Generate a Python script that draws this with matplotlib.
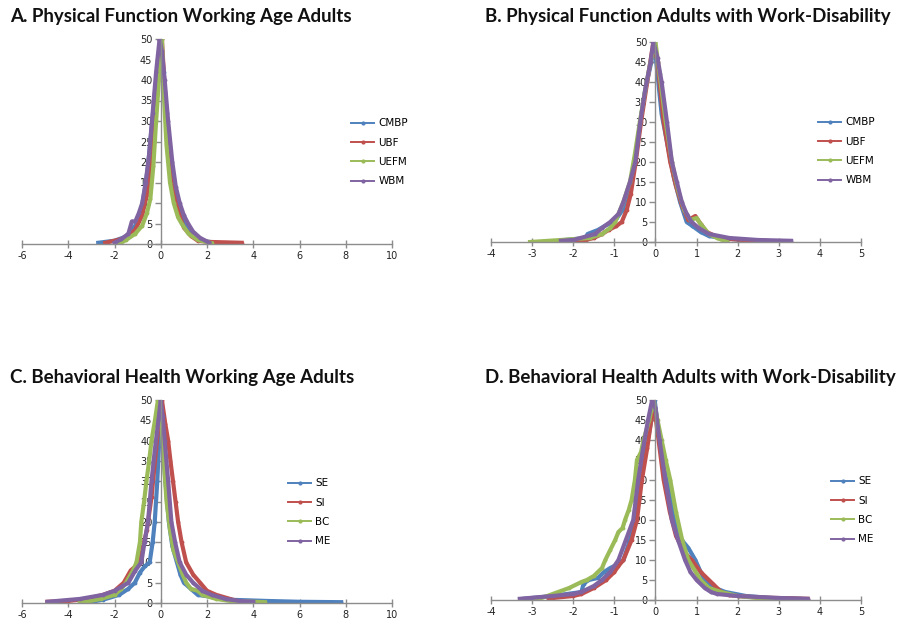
import numpy as np
import matplotlib
matplotlib.use("Agg")
import matplotlib.pyplot as plt
from matplotlib.lines import Line2D

# colours of the four series (Excel 2007 palette)
colors = ["#4F81BD", "#C0504D", "#9BBB59", "#8064A2"]

titles = ["A. Physical Function Working Age Adults",
          "B. Physical Function Adults with Work-Disability",
          "C. Behavioral Health Working Age Adults",
          "D. Behavioral Health Adults with Work-Disability"]

names_pf = ["CMBP", "UBF", "UEFM", "WBM"]
names_bh = ["SE", "SI", "BC", "ME"]

# --- panel A: physical function, working age adults ---
a_cmbp_x = [-2.7, -2.0, -1.5, -1.1, -0.85, -0.7, -0.55, -0.4, -0.25, -0.1, 0.0, 0.12, 0.25, 0.4, 0.55, 0.75, 1.0, 1.3, 1.7, 2.0, 2.45]
a_cmbp_y = [0.3, 0.8, 1.8, 4.5, 8, 13, 19, 28, 37, 45, 50, 42, 32, 22, 15, 9, 5, 2.5, 1.2, 0.6, 0.3]
a_ubf_x = [-2.4, -2.0, -1.5, -1.1, -0.8, -0.6, -0.45, -0.3, -0.15, 0.0, 0.05, 0.15, 0.3, 0.45, 0.6, 0.8, 1.0, 1.3, 1.6, 2.1, 3.5]
a_ubf_y = [0.3, 0.8, 1.5, 3.5, 7, 12, 18, 27, 38, 46, 50, 40, 28, 18, 12, 7, 4, 2, 0.8, 0.5, 0.3]
a_uefm_x = [-1.8, -1.5, -1.1, -0.8, -0.6, -0.45, -0.32, -0.2, -0.08, 0.0, 0.05, 0.12, 0.25, 0.4, 0.56, 0.75, 0.9, 1.2, 1.6, 2.2]
a_uefm_y = [0.0, 1.0, 2.5, 4.5, 7.5, 11, 19, 30, 40, 45, 50, 38, 24, 15, 10, 6.5, 5, 2.5, 1.0, 0.2]
a_wbm_x = [-2.0, -1.7, -1.4, -1.25, -1.1, -0.95, -0.8, -0.65, -0.5, -0.35, -0.2, -0.05, 0.05, 0.17, 0.32, 0.5, 0.65, 0.82, 1.0, 1.18, 1.4, 1.7, 2.1]
a_wbm_y = [0.3, 1.2, 2.5, 5.5, 5.5, 7.5, 10, 15, 22, 32, 42, 50, 47, 40, 30, 20, 14, 10, 7, 5, 3, 1.5, 0.3]

# --- panel B: physical function, adults with work-disability ---
b_cmbp_x = [-2.2, -1.7, -1.65, -1.4, -1.15, -1.0, -0.8, -0.62, -0.5, -0.37, -0.25, -0.1, -0.03, 0.05, 0.15, 0.3, 0.45, 0.6, 0.76, 0.9, 1.1, 1.3, 1.6, 2.0, 2.5, 2.9]
b_cmbp_y = [0.5, 1.0, 2.0, 3.0, 4.5, 5.0, 8, 14, 20, 30, 38, 45, 50, 42, 32, 24, 16, 10, 5, 4, 2.5, 1.5, 1.0, 0.6, 0.3, 0.2]
b_ubf_x = [-2.1, -1.7, -1.5, -1.3, -1.14, -0.95, -0.82, -0.7, -0.6, -0.48, -0.35, -0.2, -0.05, 0.05, 0.2, 0.36, 0.5, 0.65, 0.8, 0.97, 1.1, 1.25, 1.45, 1.7, 2.2, 2.7]
b_ubf_y = [0.3, 0.5, 1.0, 2.0, 3.0, 4.0, 5.0, 8, 12, 20, 30, 40, 50, 45, 30, 20, 14, 9, 5.5, 6.5, 4.5, 2.5, 1.5, 0.8, 0.5, 0.3]
b_uefm_x = [-3.05, -2.3, -1.6, -1.3, -1.1, -0.98, -0.78, -0.62, -0.5, -0.38, -0.25, -0.12, 0.0, 0.1, 0.25, 0.4, 0.55, 0.7, 0.85, 1.0, 1.1, 1.3, 1.5, 1.75]
b_uefm_y = [0.0, 0.5, 1.0, 2.0, 3.5, 5.0, 10, 15, 22, 30, 38, 45, 50, 42, 30, 20, 13, 8, 5.5, 6.0, 4.5, 2.0, 1.0, 0.0]
b_wbm_x = [-2.3, -2.0, -1.47, -1.3, -1.1, -0.9, -0.78, -0.62, -0.49, -0.37, -0.25, -0.12, -0.05, 0.05, 0.15, 0.28, 0.4, 0.52, 0.64, 0.76, 0.88, 1.05, 1.3, 1.8, 2.5, 3.3]
b_wbm_y = [0.3, 0.5, 2.0, 3.5, 5.0, 7.0, 10, 15, 20, 30, 38, 45, 50, 46, 40, 30, 20, 15, 10, 7, 5, 3.5, 2.0, 1.0, 0.5, 0.3]

# --- panel C: behavioral health, working age adults ---
c_se_x = [-3.0, -2.5, -1.8, -1.4, -1.12, -0.9, -0.7, -0.48, -0.35, -0.26, -0.15, -0.05, 0.0, 0.08, 0.2, 0.35, 0.5, 0.7, 0.85, 1.0, 1.3, 1.6, 2.2, 3.0, 4.6, 6.0, 7.8]
c_se_y = [0.3, 0.8, 2.0, 3.5, 5.0, 7.5, 9, 10, 15, 20, 30, 42, 50, 40, 30, 20, 14, 10, 7, 5, 3.5, 2.0, 1.5, 0.8, 0.5, 0.3, 0.2]
c_si_x = [-4.9, -4.0, -3.2, -2.5, -2.0, -1.6, -1.3, -1.1, -0.98, -0.8, -0.6, -0.4, -0.2, -0.05, 0.05, 0.2, 0.32, 0.42, 0.53, 0.64, 0.75, 0.9, 1.1, 1.4, 1.7, 2.0, 2.4, 3.0, 3.6]
c_si_y = [0.3, 0.5, 1.0, 2.0, 3.0, 5.0, 8.0, 9.0, 10, 13, 18, 26, 38, 46, 50, 44, 40, 35, 30, 25, 20, 15, 10, 7, 5, 3, 2, 1, 0.0]
c_bc_x = [-3.5, -2.6, -2.0, -1.7, -1.5, -1.2, -1.05, -0.9, -0.84, -0.72, -0.62, -0.5, -0.4, -0.25, -0.12, 0.0, 0.1, 0.25, 0.4, 0.55, 0.75, 0.95, 1.1, 1.3, 1.6, 1.8, 2.4, 3.0, 4.5]
c_bc_y = [0.0, 1.0, 2.0, 3.5, 5.0, 8.0, 10, 15, 20, 25, 30, 35, 40, 45, 50, 47, 38, 25, 18, 13, 10, 7, 5, 3.5, 3.0, 2.0, 1.0, 0.5, 0.2]
c_me_x = [-4.9, -3.5, -2.5, -2.0, -1.7, -1.4, -1.1, -0.84, -0.7, -0.55, -0.4, -0.25, -0.1, 0.0, 0.08, 0.17, 0.32, 0.46, 0.62, 0.82, 1.1, 1.4, 1.8, 2.2, 2.8, 3.4, 4.0]
c_me_y = [0.3, 1.0, 2.0, 3.0, 4.0, 5.0, 8.0, 10, 15, 20, 30, 38, 45, 50, 46, 40, 30, 20, 15, 10, 7, 5, 3, 2, 1.0, 0.5, 0.3]

# --- panel D: behavioral health, adults with work-disability ---
d_se_x = [-3.2, -2.5, -1.8, -1.75, -1.63, -1.4, -1.25, -1.1, -0.9, -0.78, -0.62, -0.49, -0.37, -0.22, -0.1, -0.02, 0.08, 0.2, 0.32, 0.48, 0.64, 0.8, 0.97, 1.1, 1.2, 1.45, 1.7, 2.2, 2.8, 3.5]
d_se_y = [0.3, 1.0, 2.0, 4.0, 5.0, 5.5, 7.0, 8.0, 9.0, 10, 15, 20, 30, 38, 45, 50, 42, 35, 30, 20, 15, 13, 10, 7, 5, 3, 2, 1.0, 0.5, 0.3]
d_si_x = [-2.6, -2.5, -2.0, -1.8, -1.5, -1.2, -1.0, -0.9, -0.78, -0.58, -0.45, -0.33, -0.2, -0.1, -0.05, 0.05, 0.2, 0.35, 0.5, 0.7, 0.88, 1.1, 1.4, 1.6, 1.8, 2.0, 2.5, 3.0, 3.7]
d_si_y = [0.3, 0.5, 1.0, 1.5, 3.0, 5.0, 7.0, 8.5, 10, 15, 20, 30, 38, 45, 50, 42, 30, 22, 16, 12, 10, 7, 4, 2, 1.2, 1.0, 0.6, 0.5, 0.3]
d_bc_x = [-2.9, -2.5, -2.1, -1.8, -1.67, -1.5, -1.3, -1.22, -1.1, -0.98, -0.9, -0.8, -0.74, -0.65, -0.58, -0.5, -0.45, -0.35, -0.29, -0.15, -0.05, 0.05, 0.15, 0.25, 0.36, 0.5, 0.65, 0.8, 1.1, 1.3, 1.6, 2.0, 2.5, 3.05]
d_bc_y = [0.0, 1.5, 3.0, 4.5, 5.0, 6.0, 8.0, 10, 12.5, 15, 17, 18, 20, 22.5, 25, 30, 35, 37, 40, 45, 50, 45, 40, 35, 30, 22, 15, 10, 5, 3, 2, 1.0, 0.5, 0.3]
d_me_x = [-3.3, -2.5, -2.0, -1.8, -1.5, -1.3, -1.1, -0.9, -0.72, -0.54, -0.42, -0.3, -0.18, -0.08, 0.0, 0.1, 0.24, 0.4, 0.55, 0.72, 0.85, 1.0, 1.2, 1.35, 1.5, 2.0, 3.0, 3.7]
d_me_y = [0.3, 1.0, 1.5, 2.0, 3.5, 5.0, 7.0, 10, 15, 20, 30, 38, 45, 50, 48, 40, 30, 20, 15, 10, 7, 5, 3, 2.0, 1.5, 1.0, 0.5, 0.3]

panels = [
    dict(series=[(a_cmbp_x, a_cmbp_y), (a_ubf_x, a_ubf_y), (a_uefm_x, a_uefm_y), (a_wbm_x, a_wbm_y)],
         names=names_pf, xlim=(-6, 10), xticks=np.arange(-6, 11, 2),
         rect=[22 / 907, 1 - 244 / 627, 370 / 907, 205 / 627], title_xy=(10, 22), leg=(346, 113)),
    dict(series=[(b_cmbp_x, b_cmbp_y), (b_ubf_x, b_ubf_y), (b_uefm_x, b_uefm_y), (b_wbm_x, b_wbm_y)],
         names=names_pf, xlim=(-4, 5), xticks=np.arange(-4, 6, 1),
         rect=[491 / 907, 1 - 242 / 627, 370 / 907, 200 / 627], title_xy=(485, 22), leg=(813, 112)),
    dict(series=[(c_se_x, c_se_y), (c_si_x, c_si_y), (c_bc_x, c_bc_y), (c_me_x, c_me_y)],
         names=names_bh, xlim=(-6, 10), xticks=np.arange(-6, 11, 2),
         rect=[22 / 907, 1 - 603 / 627, 370 / 907, 203 / 627], title_xy=(10, 383), leg=(283, 473)),
    dict(series=[(d_se_x, d_se_y), (d_si_x, d_si_y), (d_bc_x, d_bc_y), (d_me_x, d_me_y)],
         names=names_bh, xlim=(-4, 5), xticks=np.arange(-4, 6, 1),
         rect=[491 / 907, 1 - 600 / 627, 370 / 907, 200 / 627], title_xy=(485, 383), leg=(826, 471)),
]

fig = plt.figure(figsize=(9.07, 6.27), dpi=100)
W, H = 907, 627

for p, title in zip(panels, titles):
    ax = fig.add_axes(p["rect"])
    for (xs, ys), c, name in zip(p["series"], colors, p["names"]):
        ax.plot(xs, ys, color=c, lw=3.0, marker=".", ms=3.5, solid_joinstyle="round")
    ax.set_xlim(*p["xlim"])
    ax.set_ylim(0, 50)
    ax.set_xticks(p["xticks"])
    ax.set_yticks(np.arange(0, 51, 5))
    for s in ["top", "right"]:
        ax.spines[s].set_visible(False)
    ax.spines["left"].set_position(("data", 0))
    for s in ["left", "bottom"]:
        ax.spines[s].set_color("#8c8c8c")
        ax.spines[s].set_linewidth(1.0)
    ax.tick_params(axis="both", colors="#8c8c8c", labelcolor="#222222", labelsize=7, length=4, width=1, pad=2)
    ax.tick_params(axis="x", direction="inout", length=6)
    ax.set_xticklabels([f"{t:g}" for t in p["xticks"]])
    ax.patch.set_alpha(0)
    # legend with thin lines like the original
    handles = [Line2D([], [], color=c, lw=1.4, marker=".", ms=4) for c in colors]
    lx, ly = p["leg"]
    ax.legend(handles, p["names"], loc="upper left", bbox_to_anchor=(lx / W, 1 - ly / H),
              bbox_transform=fig.transFigure, frameon=False, fontsize=7.5, handlelength=2.2,
              handletextpad=0.4, labelspacing=0.9, borderpad=0)
    fig.text(p["title_xy"][0] / W, 1 - p["title_xy"][1] / H, title, fontsize=13.5, fontweight="bold",
             family=["Lato", "DejaVu Sans"], color="#111111", va="baseline")

fig.savefig("out.png", dpi=100)
